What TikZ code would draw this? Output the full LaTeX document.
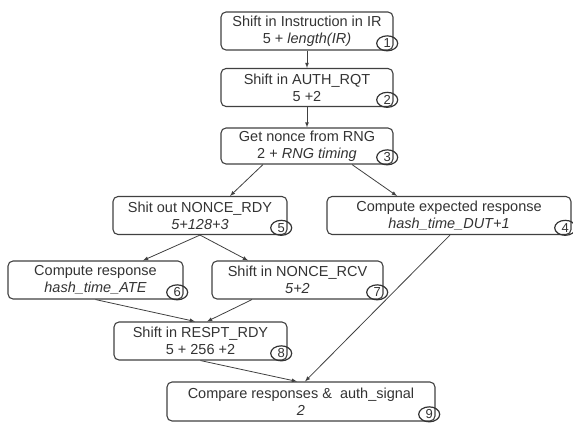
\documentclass[tikz,border=0pt]{standalone}
\usepackage{fontspec}
\setmainfont{Liberation Sans}
\usetikzlibrary{shapes.geometric}

\begin{document}
\begin{tikzpicture}[
  x=1pt, y=-1pt,
  every node/.style={font=\fontsize{14.5}{17}\selectfont, text=black!80},
  task/.style={shape=rectangle, draw=black!75, line width=1.1pt, rounded corners=5pt, align=center, minimum height=38pt, inner sep=0pt},
  num/.style={shape=ellipse, draw=black!80, line width=1.2pt, minimum width=21pt, minimum height=15pt, inner sep=0pt, font=\fontsize{13}{13}\selectfont, anchor=south east},
  flow/.style={draw=black!75, line width=0.8pt, -latex}
]
\useasboundingbox (0,0) rectangle (573,424);

% steps
\node [task, minimum width=172pt] (b1) at (307,31) {Shift in Instruction in IR\\5 + \textit{length(IR)}};
\node [task, minimum width=172pt] (b2) at (307,87.5) {Shift in AUTH\_RQT\\5 +2};
\node [task, minimum width=172pt, minimum height=36pt] (b3) at (307,146) {Get nonce from RNG\\2 + \textit{RNG timing}};
\node [task, minimum width=244pt] (b4) at (449,215.5) {Compute expected response\\\textit{hash\_time\_DUT+1}};
\node [task, minimum width=174pt] (b5) at (200,215.5) {Shit out NONCE\_RDY\\\textit{5+128+3}};
\node [task, minimum width=175pt] (b6) at (95.5,280) {Compute response\\\textit{hash\_time\_ATE}};
\node [task, minimum width=171pt] (b7) at (297.5,280) {Shift in NONCE\_RCV\\\textit{5+2}};
\node [task, minimum width=173pt] (b8) at (200.5,341) {Shift in RESPT\_RDY\\5 + 256 +2};
\node [task, minimum width=268pt, minimum height=39pt] (b9) at (301,401.5) {Compare responses \&\ \ auth\_signal\\\textit{2}};

% step numbers
\foreach \i in {1,...,9}
  \node [num] (c\i) at ([xshift=1.5pt, yshift=1.5pt]b\i.south east) {\i};

% flow
\draw [flow] (b1) -- (b2);
\draw [flow] (b2) -- (b3);
\draw [flow] ([xshift=-44pt]b3.south) -- ([xshift=30pt]b5.north);
\draw [flow] ([xshift=45pt]b3.south) -- ([xshift=-52pt]b4.north);
\draw [flow] (b5.south) -- ([xshift=47.5pt]b6.north);
\draw [flow] (b5.south) -- ([xshift=-49.5pt]b7.north);
\draw [flow] (b6.south) -- ([xshift=-5.5pt]b8.north);
\draw [flow] ([xshift=-45.5pt]b7.south) -- ([xshift=6.5pt]b8.north);
\draw [flow] (b8.south) -- ([xshift=-4pt]b9.north);
\draw [flow] ([xshift=1pt]b4.south) -- ([xshift=4pt]b9.north);
\end{tikzpicture}
\end{document}
